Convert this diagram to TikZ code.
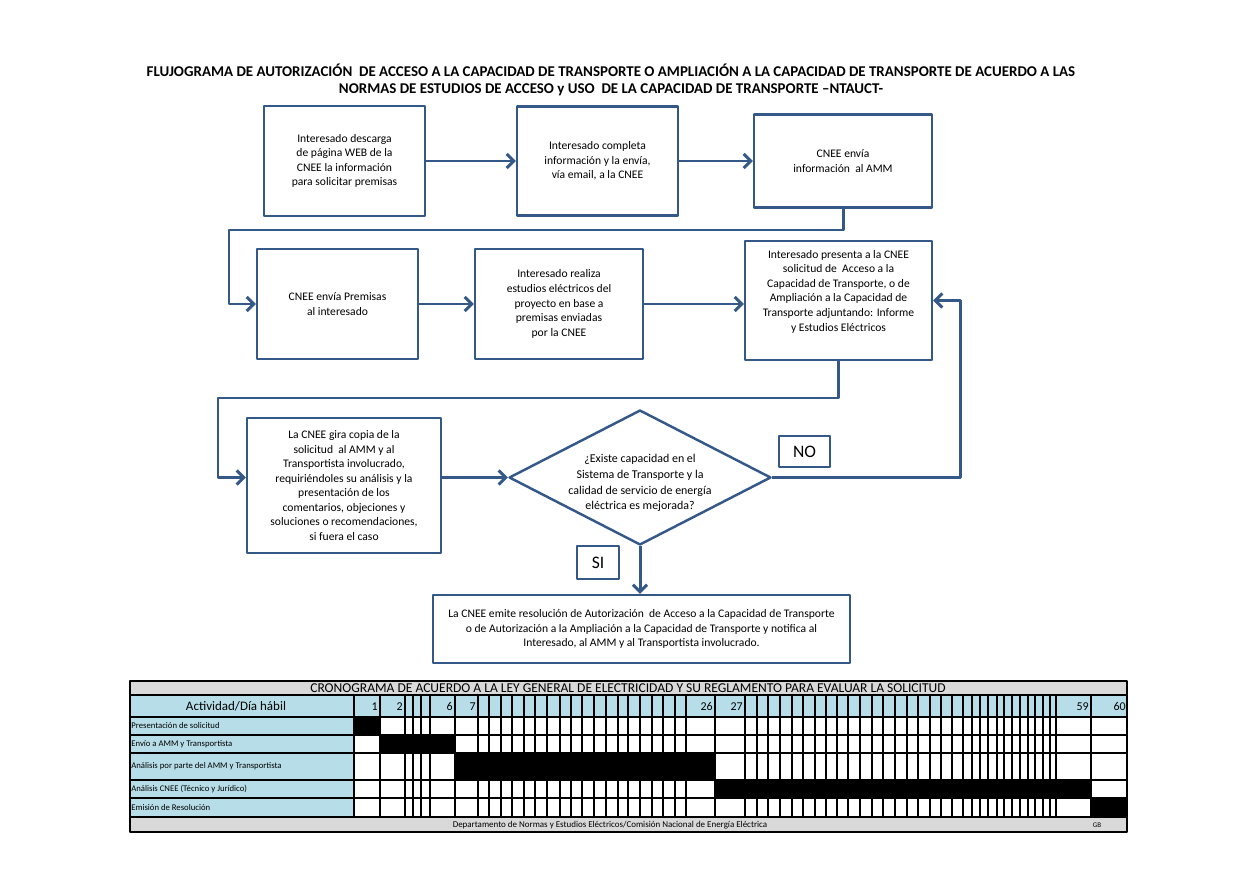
\documentclass[tikz,border=0pt]{standalone}
\usepackage{fontspec}
\setmainfont{Carlito}
\usetikzlibrary{arrows.meta,shapes.geometric}
\definecolor{azulcaja}{RGB}{52,88,135}
\definecolor{celeste}{RGB}{183,222,232}
\definecolor{grisfondo}{RGB}{217,217,217}
\begin{document}
\begin{tikzpicture}[x=0.02cm,y=-0.02cm, line join=round, >=stealth,
	caja/.style={draw=azulcaja, line width=1.4pt, align=center, inner sep=2pt, font=\fontsize{6.6}{8.3}\selectfont},
	flecha/.style={draw=azulcaja, line width=1.7pt, -{Straight Barb[length=4pt,width=8pt]}},
	etiqueta/.style={draw=azulcaja, line width=1pt, inner sep=0pt, font=\fontsize{10}{12}\selectfont},
	rotulo/.style={inner sep=0pt, font=\fontsize{4.95}{5.5}\selectfont, anchor=west},
	numdia/.style={inner sep=0pt, font=\fontsize{6.8}{7}\selectfont, anchor=east}]
	%%Marco de la pagina
	\useasboundingbox (0,0) rectangle (1256,885);
	\node[align=center, font=\bfseries\fontsize{8.5}{9.6}\selectfont] (titulo) at (611,80)
	{FLUJOGRAMA DE AUTORIZACIÓN \ DE ACCESO A LA CAPACIDAD DE TRANSPORTE O AMPLIACIÓN A LA CAPACIDAD DE TRANSPORTE DE ACUERDO A LAS\\
		NORMAS DE ESTUDIOS DE ACCESO y USO \ DE LA CAPACIDAD DE TRANSPORTE --NTAUCT-};
	%%Cajas del flujograma
	\node[caja, minimum width=3.22cm, minimum height=2.2cm] (descarga) at (344.5,161)
	{Interesado descarga\\ de página WEB de la\\ CNEE la información\\ para solicitar premisas};
	\node[caja, minimum width=3.22cm, minimum height=2.18cm] (completa) at (597.5,161)
	{Interesado completa\\ información y la envía,\\ vía email, a la CNEE};
	\node[caja, minimum width=3.56cm, minimum height=1.86cm] (envioamm) at (843,161)
	{CNEE envía\\ información \ al AMM};
	\node[caja, minimum width=3.22cm, minimum height=2.2cm] (premisas) at (337.5,304)
	{CNEE envía Premisas\\ al interesado};
	\node[caja, minimum width=3.36cm, minimum height=2.2cm] (estudios) at (559,304)
	{Interesado realiza\\ estudios eléctricos del\\ proyecto en base a\\ premisas enviadas\\ por la CNEE};
	\node[caja, minimum width=3.74cm, minimum height=2.38cm] (solicitud) at (838.5,300.5)
	{Interesado presenta a la CNEE\\ solicitud de \ Acceso a la\\ Capacidad de Transporte, o de\\ Ampliación a la Capacidad de\\ Transporte adjuntando: Informe\\ y Estudios Eléctricos\\[3pt]};
	\node[caja, minimum width=3.88cm, minimum height=2.7cm] (copia) at (344,485.5)
	{La CNEE gira copia de la\\ solicitud \ al AMM y al\\ Transportista involucrado,\\ requiriéndoles su análisis y la\\ presentación de los\\ comentarios, objeciones y\\ soluciones o recomendaciones,\\ si fuera el caso};
	\node[diamond, draw=azulcaja, line width=1.4pt, inner sep=0pt, minimum width=5.24cm, minimum height=2.7cm] (existe) at (640,477.5) {};
	\node[align=center, inner sep=0pt, font=\fontsize{6.8}{9}\selectfont] (pregunta) at (640,483)
	{¿Existe capacidad en el\\ Sistema de Transporte y la\\ calidad de servicio de energía\\ eléctrica es mejorada?};
	\node[caja, minimum width=8.34cm, minimum height=1.36cm] (resolucion) at (641.5,629)
	{La CNEE emite resolución de Autorización \ de Acceso a la Capacidad de Transporte\\ o de Autorización a la Ampliación a la Capacidad de Transporte y notifica al\\ Interesado, al AMM y al Transportista involucrado.};
	\node[etiqueta, minimum width=1.02cm, minimum height=0.62cm] (no) at (804.5,451.5) {NO};
	\node[etiqueta, minimum width=0.84cm, minimum height=0.66cm] (si) at (598,562.5) {SI};
	%%Conectores
	\coordinate (vuelta1) at (843,230);
	\coordinate (bajada1) at (229,230);
	\coordinate (vuelta2) at (838.5,398);
	\coordinate (bajada2) at (218,398);
	\coordinate (retorno) at (960,300.5);
	\draw[flecha] (descarga) -- (completa);
	\draw[flecha] (completa) -- (envioamm);
	\draw[flecha] (envioamm.south) -- (vuelta1) -- (bajada1) |- (premisas.west);
	\draw[flecha] (premisas) -- (estudios);
	\draw[flecha] (estudios.east) -- (estudios.east -| solicitud.west);
	\draw[flecha] (solicitud.south) -- (vuelta2) -- (bajada2) |- (copia.west |- existe.west);
	\draw[flecha] (copia.east |- existe.west) -- (existe.west);
	\draw[flecha] (existe.east) -| (retorno) -- (solicitud.east);
	\draw[flecha] (existe.south) -- (existe.south |- resolucion.north);
	%%Cronograma
	\fill[grisfondo] (130,681) rectangle (1127,695);
	\fill[celeste] (130,695) rectangle (1127,717);
	\fill[celeste] (130,717) rectangle (354,817);
	\fill[grisfondo] (130,817) rectangle (1127,832);
	\fill (354,717) rectangle (380,735);
	\fill (380,735) rectangle (455,753);
	\fill (455,753) rectangle (715,780);
	\fill (715,780) rectangle (1091,798);
	\fill (1091,798) rectangle (1127,817);
	\foreach \y in {695,717,735,753,780,798,817}
	\draw[line width=0.9pt] (130,\y) -- (1127,\y);
	\foreach \x in {354,380,405,413,421,430,455,478,489,501,512,524,535,547,560,571,582,594,606,618,628,640,652,663,675,686,715,745,757,768,780,792,803,815,826,837,848,860,872,883,895,907,918,930,941,952,963,972,980,988,997,1004,1012,1020,1028,1035,1043,1050,1056,1091}
	\draw[line width=0.9pt] (\x,695) -- (\x,817);
	\draw[line width=1.2pt] (130,681) rectangle (1127,832);
	\node[inner sep=0pt, font=\fontsize{7.7}{8}\selectfont] (cronograma) at (628,688)
	{CRONOGRAMA DE ACUERDO A LA LEY GENERAL DE ELECTRICIDAD Y SU REGLAMENTO PARA EVALUAR LA SOLICITUD};
	\node[inner sep=0pt, font=\fontsize{7.4}{8}\selectfont] (actividad) at (236,706.5) {Actividad/Día hábil};
	\node[numdia] (d1) at (378,706.5) {1};
	\node[numdia] (d2) at (403,706.5) {2};
	\node[numdia] (d6) at (453,706.5) {6};
	\node[numdia] (d7) at (476,706.5) {7};
	\node[numdia] (d26) at (713,706.5) {26};
	\node[numdia] (d27) at (743,706.5) {27};
	\node[numdia] (d59) at (1089,706.5) {59};
	\node[numdia] (d60) at (1126,706.5) {60};
	\node[rotulo] (act1) at (131,726) {Presentación de solicitud};
	\node[rotulo] (act2) at (131,744) {Envío a AMM y Transportista};
	\node[rotulo] (act3) at (131,766.5) {Análisis por parte del AMM y Transportista};
	\node[rotulo] (act4) at (131,789) {Análisis CNEE (Técnico y Jurídico)};
	\node[rotulo] (act5) at (131,807.5) {Emisión de Resolución};
	\node[inner sep=0pt, font=\fontsize{5.1}{5.5}\selectfont] (pie) at (610,825)
	{Departamento de Normas y Estudios Eléctricos/Comisión Nacional de Energía Eléctrica};
	\node[inner sep=0pt, font=\fontsize{4}{5}\selectfont] (gb) at (1097,825) {GB};
\end{tikzpicture}
\end{document}
